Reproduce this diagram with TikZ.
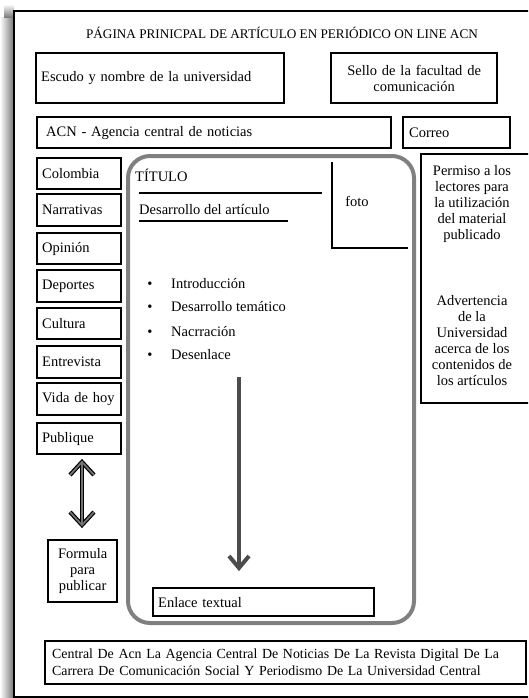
\documentclass[tikz,border=0pt]{standalone}
\usepackage{fontspec}
\setmainfont{Liberation Serif}
\begin{document}
\begin{tikzpicture}[x=1pt,y=-1pt,
  every node/.style={font=\fontsize{14.5}{16}\selectfont},
  boxed/.style={draw, line width=2.3pt, anchor=north west, inner ysep=0pt, inner xsep=5pt, align=left},
  plain/.style={inner sep=0pt},
  thinrule/.style={line width=1.3pt},
  darrow/.style={line width=4pt, draw=black!70, line join=miter},
]
\useasboundingbox (0,0) rectangle (528,698);
\clip (0,0) rectangle (528,698);
% shadow and frame
\shade[left color=white, right color=black!55] (0,18) rectangle (14,698);
\shade[top color=white, bottom color=black!55] (4,4) rectangle (14,18);
\draw[line width=2pt] (14,698) -- (14,11) -- (540,11);
\draw[line width=2pt] (14,697) -- (540,697);
% title
\node[plain, font=\fontsize{13.2}{16}\selectfont] (title) at (282,33) {PÁGINA PRINICPAL DE ARTÍCULO EN PERIÓDICO ON LINE ACN};
% top boxes
\node[boxed, minimum width=248pt, minimum height=50pt, text width=238pt] (escudo) at (35,52) {Escudo y nombre de la universidad};
\node[boxed, minimum width=166pt, minimum height=50pt, text width=156pt, align=center] (sello) at (330,52) {Sello de la facultad de\\comunicación};
\node[boxed, minimum width=354pt, minimum height=31pt, text width=336pt, inner xsep=9pt] (acn) at (36,116) {ACN - Agencia central de noticias};
\node[boxed, minimum width=107pt, minimum height=31pt, text width=95pt, inner xsep=6pt] (correo) at (402,116) {Correo};
% left column
\node[boxed, minimum width=84pt, minimum height=31pt, text width=74pt] (colombia) at (36,157) {Colombia};
\node[boxed, minimum width=84pt, minimum height=32pt, text width=74pt] (narrativas) at (36,193) {Narrativas};
\node[boxed, minimum width=84pt, minimum height=31pt, text width=74pt] (opinion) at (36,232) {Opinión};
\node[boxed, minimum width=84pt, minimum height=32pt, text width=74pt] (deportes) at (36,269) {Deportes};
\node[boxed, minimum width=84pt, minimum height=31pt, text width=74pt] (cultura) at (36,307) {Cultura};
\node[boxed, minimum width=84pt, minimum height=32pt, text width=74pt] (entrevista) at (36,345) {Entrevista};
\node[boxed, minimum width=84pt, minimum height=32pt, text width=74pt] (vida) at (36,382) {Vida de hoy};
\node[boxed, minimum width=84pt, minimum height=31pt, text width=74pt] (publique) at (36,422) {Publique};
\node[boxed, minimum width=69pt, minimum height=62pt, text width=63pt, inner xsep=3pt, align=center] (formula) at (47,539) {Formula\\para\\publicar};
% double arrow
\coordinate (dtop) at (82,462);
\coordinate (dbot) at (82,525);
\foreach \w/\c in {4.2pt/black, 1.8pt/black!55}{
  \draw[line width=\w, draw=\c, line join=miter] (dtop) -- (dbot);
  \draw[line width=\w, draw=\c, line join=miter] ([shift={(-12,13)}]dtop) -- (dtop) -- ([shift={(12,13)}]dtop);
  \draw[line width=\w, draw=\c, line join=miter] ([shift={(-12,-13)}]dbot) -- (dbot) -- ([shift={(12,-13)}]dbot);
}
% central panel
\draw[line width=4pt, draw=black!50, rounded corners=22pt] (128,156) rectangle (414,623);
\node[plain, anchor=base west] (titulo) at (135,181) {TÍTULO};
\draw[thinrule] (139,193) -- (322,193);
\node[plain, anchor=base west] (desarrollo) at (139,214) {Desarrollo del artículo};
\draw[thinrule] (139,221) -- (288,221);
\draw[line width=2pt] (332,162) -- (332,248) -- (408,248);
\node[plain] (foto) at (357,201) {foto};
\foreach \y/\t/\n in {288/Introducción/b1, 311/Desarrollo temático/b2, 336/Nacrración/b3, 359/Desenlace/b4}{
  \node[plain, anchor=base] at (150,\y) {•};
  \node[plain, anchor=base west] (\n) at (171,\y) {\t};
}
\coordinate (atop) at (239,377);
\coordinate (atip) at (239,568);
\draw[darrow] (atop) -- (atip);
\draw[darrow] ([shift={(-10,-12)}]atip) -- (atip) -- ([shift={(10,-12)}]atip);
\node[boxed, minimum width=221pt, minimum height=28pt, text width=211pt] (enlace) at (152,587) {Enlace textual};
% right box
\draw[line width=2.3pt] (540,154) -- (421,154) -- (421,403) -- (540,403);
\node[plain, align=center] (permiso) at (472,204) {Permiso a los\\lectores para\\la utilización\\del material\\publicado};
\node[plain, align=center] (advertencia) at (472,341) {Advertencia\\de la\\Universidad\\acerca de los\\contenidos de\\los artículos};
% bottom box
\node[boxed, minimum width=481pt, minimum height=43pt, text width=467pt, inner xsep=7pt, font=\fontsize{13.9}{17}\selectfont] (central) at (44,640) {Central De Acn La Agencia Central De Noticias De La Revista Digital De La\\Carrera De Comunicación Social Y Periodismo De La Universidad Central};
\end{tikzpicture}
\end{document}
